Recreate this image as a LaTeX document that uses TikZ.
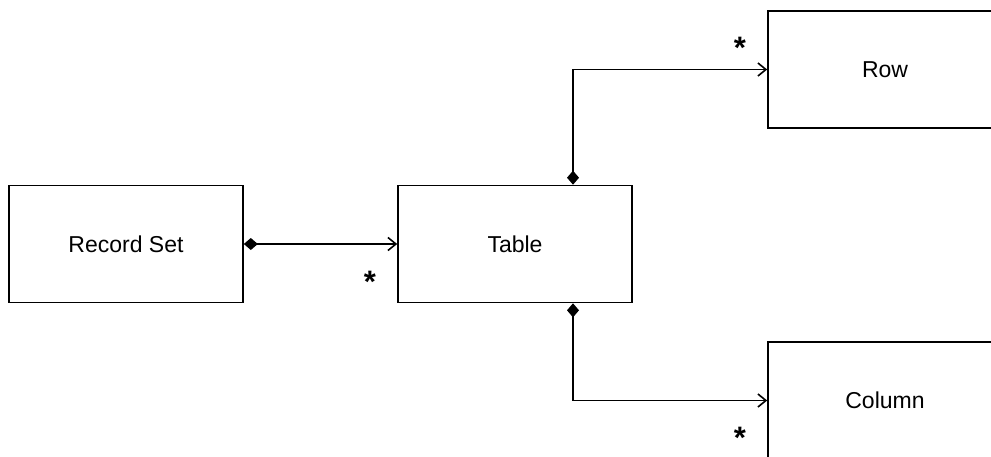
\documentclass[tikz,border=0pt]{standalone}
\usepackage{fontspec}
\setmainfont{Liberation Sans}
\usetikzlibrary{arrows.meta}

\begin{document}
\begin{tikzpicture}[x=1pt,y=-1pt,
    classbox/.style={draw,line width=1.6pt,minimum width=234pt,minimum height=117pt,font=\fontsize{23}{28}\selectfont},
    mult/.style={inner sep=0pt,anchor=base,font=\fontsize{31}{33}\selectfont\bfseries},
    composition/.style={line width=1.6pt,{Diamond[length=14pt,width=12pt]}-{Straight Barb[length=8pt,width=13pt]}}]

    \useasboundingbox (0,0) rectangle (991,456);

    % nodes
    \node[classbox] (recset) at (126,244) {Record Set};
    \node[classbox] (table) at (515,244) {Table};
    \node[classbox] (row) at (885,69.5) {Row};
    \node[classbox] (column) at (885,400.5) {Column};

    % paths
    \draw[composition] (recset.east) -- (table.west); % Record Set -> Table
    \draw[composition] ([xshift=58pt]table.north) |- (row.west); % Table -> Row
    \draw[composition] ([xshift=58pt]table.south) |- (column.west); % Table -> Column

    % multiplicities
    \node[mult] (mtable) at (370,292) {*};
    \node[mult] (mrow) at (740,58) {*};
    \node[mult] (mcolumn) at (740,448) {*};

\end{tikzpicture}
\end{document}
